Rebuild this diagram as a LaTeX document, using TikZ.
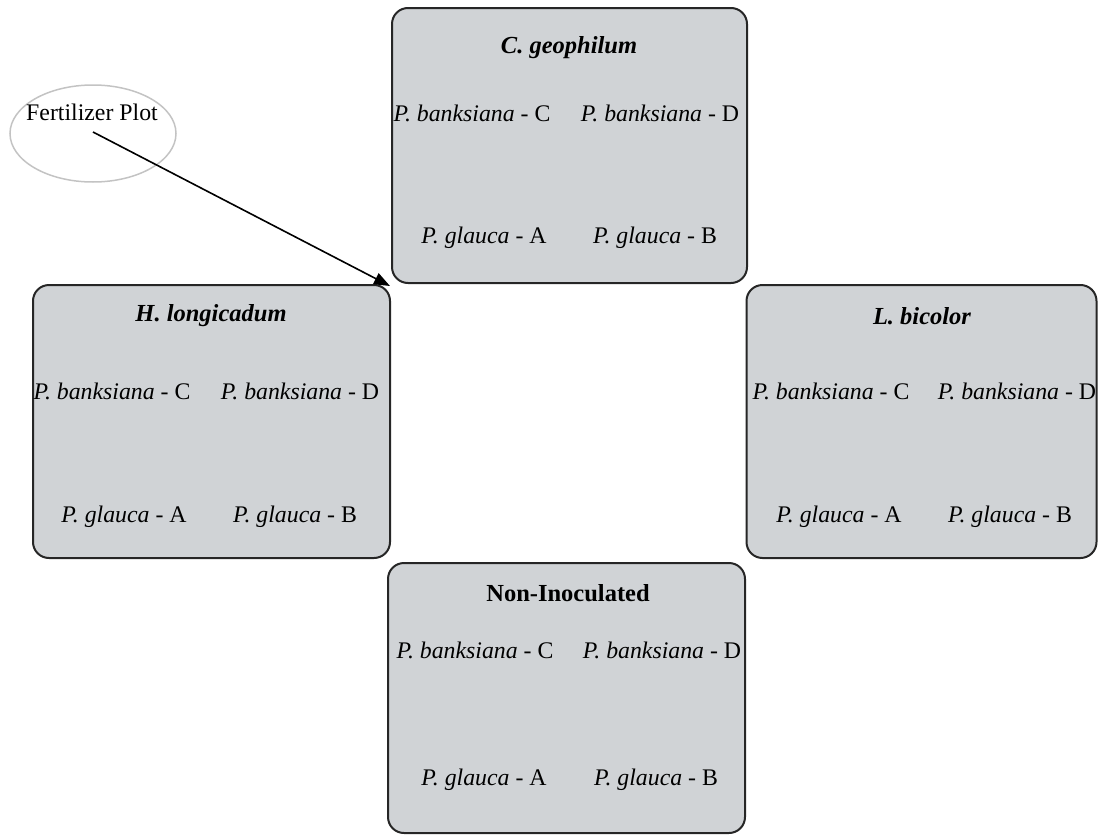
\documentclass[tikz,border=0pt]{standalone}
\usepackage{fontspec}
\setmainfont{Liberation Serif}
\usetikzlibrary{arrows.meta,shapes.geometric}
\definecolor{boxfill}{RGB}{208,211,214}
\definecolor{boxline}{RGB}{38,38,38}
\definecolor{ellline}{RGB}{195,195,195}
\begin{document}
\begin{tikzpicture}[x=1pt,y=-1pt,
  plotbox/.style={draw=boxline, line width=2pt, fill=boxfill, rounded corners=16pt, inner sep=0pt},
  ttl/.style={font=\fontsize{24.5}{28}\selectfont\bfseries\itshape, inner sep=0pt},
  ttlup/.style={font=\fontsize{24.5}{28}\selectfont\bfseries, inner sep=0pt},
  lbl/.style={font=\fontsize{23.8}{28}\selectfont, inner sep=0pt}]
\useasboundingbox (0,0) rectangle (1098,835);
% boxes
\node[plotbox, minimum width=355pt, minimum height=275pt] (cg) at (569.5,145.5) {};
\node[plotbox, minimum width=357pt, minimum height=273pt] (hl) at (211.5,421.5) {};
\node[plotbox, minimum width=350pt, minimum height=273pt] (lb) at (921.5,421.5) {};
\node[plotbox, minimum width=357pt, minimum height=270pt] (ni) at (566.5,698) {};
% top box
\node[ttl] (cgt) at (569,48) {C. geophilum};
\node[lbl] (cgc) at (472,113) {\textit{P. banksiana} - C};
\node[lbl] (cgd) at (660,113) {\textit{P. banksiana} - D};
\node[lbl] (cga) at (484,238) {\textit{P. glauca} - A};
\node[lbl] (cgb) at (655,238) {\textit{P. glauca} - B};
% left box
\node[ttl] (hlt) at (211,316) {H. longicadum};
\node[lbl] (hlc) at (112,391) {\textit{P. banksiana} - C};
\node[lbl] (hld) at (300,391) {\textit{P. banksiana} - D};
\node[lbl] (hla) at (124,517) {\textit{P. glauca} - A};
\node[lbl] (hlb) at (295,517) {\textit{P. glauca} - B};
% right box
\node[ttl] (lbt) at (922,316) {L. bicolor};
\node[lbl] (lbc) at (831,391) {\textit{P. banksiana} - C};
\node[lbl] (lbd) at (1017,391) {\textit{P. banksiana} - D};
\node[lbl] (lba) at (839,517) {\textit{P. glauca} - A};
\node[lbl] (lbb) at (1010,517) {\textit{P. glauca} - B};
% bottom box
\node[ttlup] (nit) at (568,593) {Non-Inoculated};
\node[lbl] (nic) at (475,650) {\textit{P. banksiana} - C};
\node[lbl] (nid) at (662,650) {\textit{P. banksiana} - D};
\node[lbl] (nia) at (484,780) {\textit{P. glauca} - A};
\node[lbl] (nib) at (656,780) {\textit{P. glauca} - B};
% fertilizer plot
\node[draw=ellline, line width=1.5pt, ellipse, minimum width=166pt, minimum height=97pt, inner sep=0pt] (fp) at (93,133.5) {};
\node[lbl] (fpt) at (92,112) {Fertilizer Plot};
\coordinate (fs) at (93,132);
\coordinate (fe) at (390,286);
\draw[line width=1.6pt, -{Triangle[length=16pt,width=12pt]}] (fs) -- (fe);
\end{tikzpicture}
\end{document}
